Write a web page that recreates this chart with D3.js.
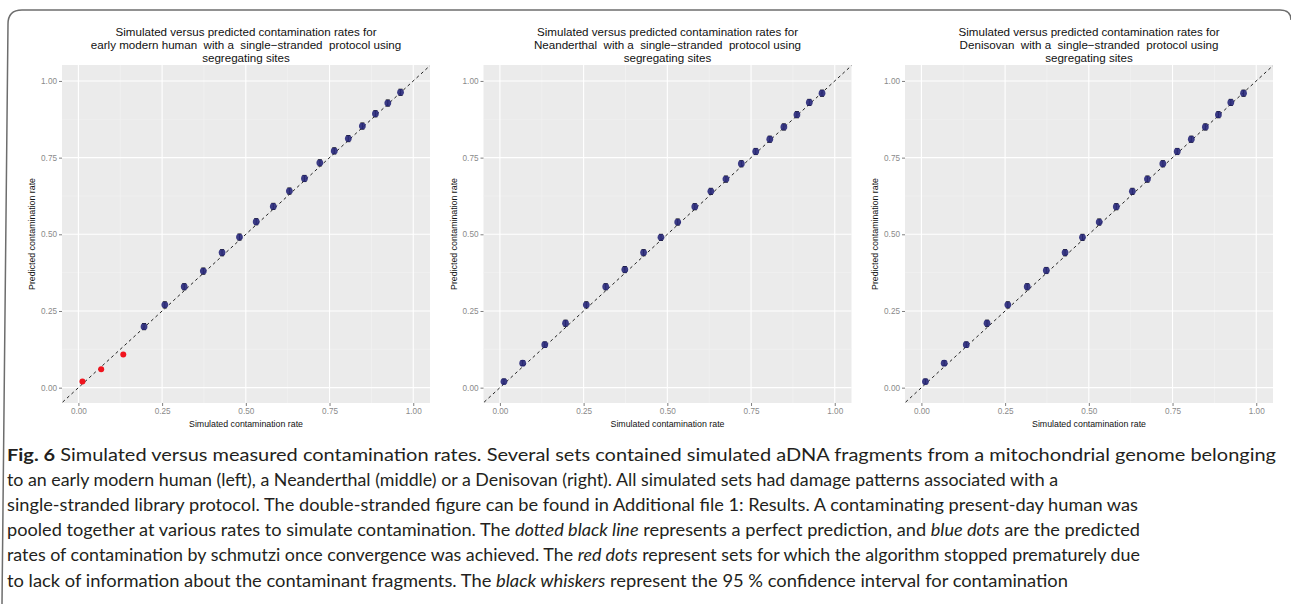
<!DOCTYPE html>
<html>
<head>
<meta charset="utf-8">
<script src="https://cdn.jsdelivr.net/npm/d3@7"></script>
<style>
  body { margin: 0; background: #fff; }
  svg { display: block; font-family: "Liberation Sans", Arial, sans-serif; }
  .caption { font-family: Lato, "Open Sans", sans-serif; fill: #231f20; }
</style>
</head>
<body>
<svg id="fig" width="1291" height="604"></svg>
<script>
// simulated contamination (x) and predicted contamination (y)
const simulatedRate = [0.012, 0.068, 0.134, 0.196, 0.258, 0.316, 0.373, 0.429, 0.481, 0.531,
                       0.582, 0.630, 0.675, 0.721, 0.764, 0.806, 0.848, 0.887, 0.924, 0.962];
const predictedEarlyModern = [0.020, 0.060, 0.108, 0.199, 0.270, 0.329, 0.380, 0.440, 0.491, 0.541,
                              0.591, 0.641, 0.682, 0.733, 0.772, 0.812, 0.853, 0.893, 0.928, 0.963];
const predictedNeanderthal = [0.020, 0.080, 0.140, 0.210, 0.270, 0.329, 0.385, 0.440, 0.490, 0.540,
                              0.590, 0.640, 0.680, 0.730, 0.770, 0.810, 0.850, 0.890, 0.930, 0.960];
const predictedDenisovan = [0.020, 0.080, 0.140, 0.210, 0.270, 0.329, 0.382, 0.440, 0.490, 0.540,
                            0.590, 0.640, 0.680, 0.730, 0.770, 0.810, 0.850, 0.890, 0.930, 0.960];
// false = algorithm stopped prematurely (red dots)
const convergedEarlyModern = [false, false, false, true, true, true, true, true, true, true,
                              true, true, true, true, true, true, true, true, true, true];
const convergedOther = [true, true, true, true, true, true, true, true, true, true,
                        true, true, true, true, true, true, true, true, true, true];
const ciHalfWidth = [0.008, 0.008, 0.009, 0.010, 0.010, 0.010, 0.010, 0.010, 0.010, 0.010,
                     0.010, 0.010, 0.010, 0.010, 0.010, 0.010, 0.010, 0.010, 0.010, 0.010];

const sampleNames = ["early modern human", "Neanderthal", "Denisovan"];
const predictedSeries = [predictedEarlyModern, predictedNeanderthal, predictedDenisovan];
const convergedSeries = [convergedEarlyModern, convergedOther, convergedOther];
const majorTicks = [0, 0.25, 0.5, 0.75, 1];
const minorTicks = [0.125, 0.375, 0.625, 0.875];

const captionLines = [
  [["b", "Fig. 6"], ["n", " Simulated versus measured contamination rates. Several sets contained simulated aDNA fragments from a mitochondrial genome belonging"]],
  [["n", "to an early modern human (left), a Neanderthal (middle) or a Denisovan (right). All simulated sets had damage patterns associated with a"]],
  [["n", "single-stranded library protocol. The double-stranded figure can be found in Additional file 1: Results. A contaminating present-day human was"]],
  [["n", "pooled together at various rates to simulate contamination. The "], ["i", "dotted black line"], ["n", " represents a perfect prediction, and "], ["i", "blue dots"], ["n", " are the predicted"]],
  [["n", "rates of contamination by schmutzi once convergence was achieved. The "], ["i", "red dots"], ["n", " represent sets for which the algorithm stopped prematurely due"]],
  [["n", "to lack of information about the contaminant fragments. The "], ["i", "black whiskers"], ["n", " represent the 95\u00a0% confidence interval for contamination"]]
];
// right end of each caption line in the figure
const captionLineEnds = [1276, 1058, 1138, 1140, 1140, 1068];

const svg = d3.select("#fig");
svg.append("rect").attr("width", 1291).attr("height", 604).attr("fill", "#fff");

// figure frame
svg.append("path")
  .attr("d", "M2,604 L8,24 Q8,10 22,10 L1280,10 Q1291,10 1291,20")
  .attr("fill", "none")
  .attr("stroke", "#6d6d6d")
  .attr("stroke-width", 1.5);

const panelLefts = [62, 483.5, 905];
const panelTop = 65;
const panelWidth = 368;
const panelHeight = 338;

const x = d3.scaleLinear().domain([-0.049, 1.05]).range([0, panelWidth]);
const y = d3.scaleLinear().domain([-0.05, 1.052]).range([panelHeight, 0]);

panelLefts.forEach((left, p) => {
  const g = svg.append("g").attr("transform", `translate(${left},${panelTop})`);

  g.append("rect")
    .attr("width", panelWidth)
    .attr("height", panelHeight)
    .attr("fill", "#ebebeb");

  // minor grid
  g.selectAll(".minor-v").data(minorTicks).enter().append("line")
    .attr("x1", d => x(d)).attr("x2", d => x(d))
    .attr("y1", 0).attr("y2", panelHeight)
    .attr("stroke", "#f4f4f4").attr("stroke-width", 0.6);
  g.selectAll(".minor-h").data(minorTicks).enter().append("line")
    .attr("y1", d => y(d)).attr("y2", d => y(d))
    .attr("x1", 0).attr("x2", panelWidth)
    .attr("stroke", "#f4f4f4").attr("stroke-width", 0.6);

  // major grid
  g.selectAll(".major-v").data(majorTicks).enter().append("line")
    .attr("x1", d => x(d)).attr("x2", d => x(d))
    .attr("y1", 0).attr("y2", panelHeight)
    .attr("stroke", "#fff").attr("stroke-width", 1.1);
  g.selectAll(".major-h").data(majorTicks).enter().append("line")
    .attr("y1", d => y(d)).attr("y2", d => y(d))
    .attr("x1", 0).attr("x2", panelWidth)
    .attr("stroke", "#fff").attr("stroke-width", 1.1);

  // axes
  const xAxis = d3.axisBottom(x).tickValues(majorTicks).tickFormat(d3.format(".2f"))
    .tickSize(3).tickPadding(2);
  const yAxis = d3.axisLeft(y).tickValues(majorTicks).tickFormat(d3.format(".2f"))
    .tickSize(3).tickPadding(2);

  const gx = g.append("g").attr("transform", `translate(0,${panelHeight})`).call(xAxis);
  const gy = g.append("g").call(yAxis);
  [gx, gy].forEach(a => {
    a.select(".domain").remove();
    a.selectAll(".tick line").attr("stroke", "#7f7f7f");
    a.selectAll(".tick text")
      .attr("fill", "#8a8a8a")
      .attr("font-size", 8.2)
      .attr("font-family", "'Liberation Sans', Arial, sans-serif");
  });

  // perfect prediction line
  const clipId = "clip" + p;
  g.append("clipPath").attr("id", clipId)
    .append("rect").attr("width", panelWidth).attr("height", panelHeight);
  g.append("line")
    .attr("clip-path", `url(#${clipId})`)
    .attr("x1", x(-0.1)).attr("y1", y(-0.1))
    .attr("x2", x(1.1)).attr("y2", y(1.1))
    .attr("stroke", "#222")
    .attr("stroke-width", 1)
    .attr("stroke-dasharray", "3,3");

  const data = simulatedRate.map((s, i) => ({
    sim: s,
    pred: predictedSeries[p][i],
    ci: ciHalfWidth[i],
    ok: convergedSeries[p][i]
  }));
  const good = data.filter(d => d.ok);

  // whiskers
  g.selectAll(".whisker").data(good).enter().append("path")
    .attr("d", d => {
      const cx = x(d.sim), lo = y(d.pred - d.ci), hi = y(d.pred + d.ci);
      return `M${cx},${lo}L${cx},${hi}M${cx - 2},${lo}L${cx + 2},${lo}M${cx - 2},${hi}L${cx + 2},${hi}`;
    })
    .attr("stroke", "#111")
    .attr("stroke-width", 1)
    .attr("fill", "none");

  g.selectAll(".pt").data(data).enter().append("circle")
    .attr("cx", d => x(d.sim))
    .attr("cy", d => y(d.pred))
    .attr("r", d => d.ok ? 3.4 : 3)
    .attr("fill", d => d.ok ? "#28287a" : "#f0141e")
    .attr("fill-opacity", d => d.ok ? 0.9 : 1);

  // titles
  const title = g.append("text")
    .attr("text-anchor", "middle")
    .attr("font-size", 11.6)
    .attr("fill", "#111")
    .style("white-space", "pre");
  const titleLines = [
    "Simulated versus predicted contamination rates for",
    sampleNames[p] + "  with a  single\u2212stranded  protocol using",
    "segregating sites"
  ];
  titleLines.forEach((t, i) => {
    title.append("tspan")
      .attr("x", panelWidth / 2)
      .attr("y", -29 + i * 13)
      .text(t);
  });

  g.append("text")
    .attr("x", panelWidth / 2)
    .attr("y", panelHeight + 24)
    .attr("text-anchor", "middle")
    .attr("font-size", 8.8)
    .attr("fill", "#111")
    .text("Simulated contamination rate");

  g.append("text")
    .attr("transform", `translate(-27,${panelHeight / 2}) rotate(-90)`)
    .attr("text-anchor", "middle")
    .attr("font-size", 8.8)
    .attr("fill", "#111")
    .text("Predicted contamination rate");
});

// caption
const cap = svg.append("g").attr("class", "caption");
captionLines.forEach((parts, i) => {
  const t = cap.append("text")
    .attr("x", 7)
    .attr("y", 461 + i * 25.1)
    .attr("font-size", 17.4)
    .attr("textLength", captionLineEnds[i] - 7)
    .attr("lengthAdjust", "spacingAndGlyphs");
  parts.forEach(([style, str]) => {
    t.append("tspan")
      .attr("font-weight", style === "b" ? "bold" : null)
      .attr("font-style", style === "i" ? "italic" : null)
      .text(str);
  });
});
</script>
</body>
</html>
